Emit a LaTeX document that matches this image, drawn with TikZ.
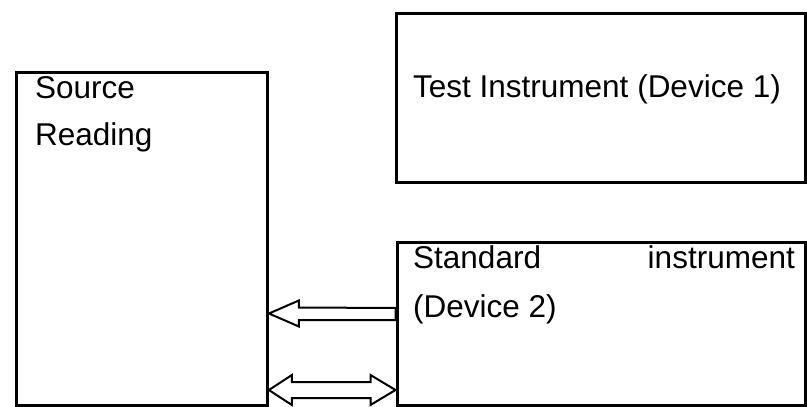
\documentclass[tikz,border=0pt]{standalone}
\usepackage{fontspec}
\setmainfont{Liberation Sans}
\usetikzlibrary{calc}
\begin{document}
\begin{tikzpicture}[x=1pt,y=-1pt,
  box/.style={draw, line width=3.4pt, anchor=north west, inner sep=0pt},
  lbl/.style={anchor=base west, inner sep=0pt, font=\fontsize{31.5}{48}\selectfont},
  blockarrow/.style={draw, line width=2pt, fill=white, line join=miter}]
\useasboundingbox (0,0) rectangle (807,407);
% boxes
\node[box, minimum width=251pt, minimum height=333pt] (src) at (14.5,70.5) {};
\node[box, minimum width=409.5pt, minimum height=169.5pt] (test) at (394.5,11.5) {};
\node[box, minimum width=408.5pt, minimum height=162.5pt] (std) at (395.5,241) {};
% labels
\node[lbl] (t1) at (35,98) {Source};
\node[lbl] (t2) at (35,145) {Reading};
\node[lbl] (t3) at (413,97) {Test Instrument (Device 1)};
\node[lbl] (t4) at (413,268) {Standard};
\node[lbl, anchor=base east] (t5) at (795,268) {instrument};
\node[lbl] (t6) at (413,317) {(Device 2)};
% single block arrow from standard to source
\coordinate (a1) at (src.east |- 0,313.5);
\coordinate (a2) at (std.west |- 0,313.5);
\draw[blockarrow] (a1) -- ++(30,-13) -- ++(0,7) -- (a2 |- 0,308) -- (a2 |- 0,320) -- ($(a1)+(30,6.5)$) -- ++(0,6.5) -- cycle;
% double block arrow
\coordinate (b1) at (src.east |- 0,390);
\coordinate (b2) at (std.west |- 0,390);
\draw[blockarrow] (b1) -- ++(23,-15) -- ++(0,7) -- ($(b2)+(-25,-8)$) -- ++(0,-7) -- (b2) -- ++(-25,15) -- ++(0,-7) -- ($(b1)+(23,8)$) -- ++(0,7) -- cycle;
\end{tikzpicture}
\end{document}
